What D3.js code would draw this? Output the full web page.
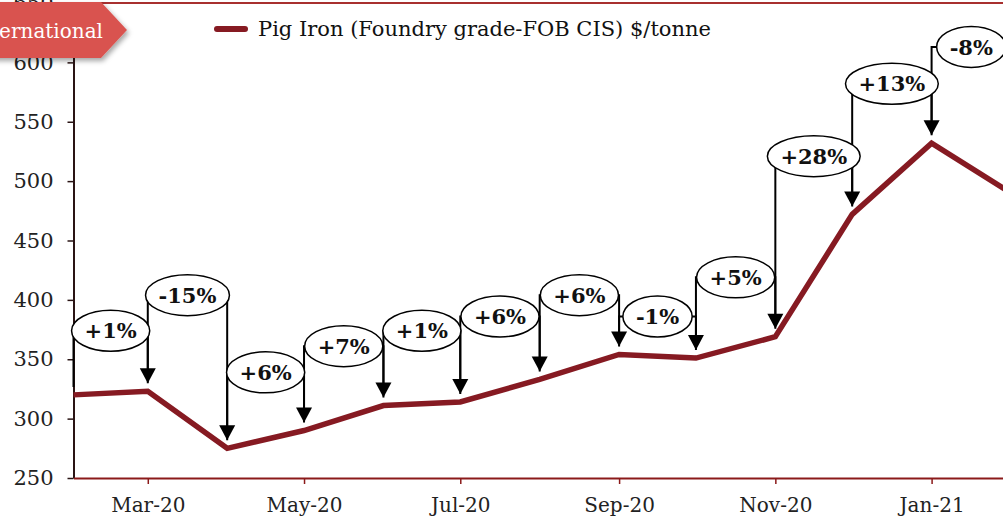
<!DOCTYPE html>
<html>
<head>
<meta charset="utf-8">
<script src="https://cdn.jsdelivr.net/npm/d3@7"></script>
<style>
  html, body { margin: 0; padding: 0; background: #fff; overflow: hidden; }
  svg { display: block; font-family: "DejaVu Serif", Georgia, serif; }
</style>
</head>
<body>
<div id="chart"></div>
<script>
const WIDTH = 1003;
const HEIGHT = 521;
const MARGIN = {top: 3, left: 73.5, bottom: 43};
const LINE_COLOR = '#861a22';
const TIP_GAP = 8;
const HEAD = 15;

// monthly pig iron price, $/tonne
const months = ['2020-02-01', '2020-03-01', '2020-04-01', '2020-05-01', '2020-06-01', '2020-07-01',
  '2020-08-01', '2020-09-01', '2020-10-01', '2020-11-01', '2020-12-01', '2021-01-01', '2021-02-01'];
const prices = [320, 323, 275, 290, 311, 314, 333, 354, 351, 369, 472, 532, 490];

// month-on-month change callouts (one per step) and the level they sit at
const changeLabels = ['+1%', '-15%', '+6%', '+7%', '+1%', '+6%', '+6%', '-1%', '+5%', '+28%', '+13%', '-8%'];
const labelLevels = [374, 404, 339, 361, 374, 386, 404, 386, 419, 521, 582, 613];

const yTicks = [250, 300, 350, 400, 450, 500, 550, 600, 650];
const xTicks = ['2020-03-01', '2020-05-01', '2020-07-01', '2020-09-01', '2020-11-01', '2021-01-01'];

const seriesName = 'Pig Iron (Foundry grade-FOB CIS) $/tonne';
const bannerText = 'International';

const parse = d3.timeParse('%Y-%m-%d');
const dates = months.map(parse);

const svg = d3.select('#chart')
  .append('svg')
  .attr('width', WIDTH)
  .attr('height', HEIGHT);

const defs = svg.append('defs');
const shadow = defs.append('filter').attr('id', 'shadow')
  .attr('x', '-20%').attr('y', '-20%').attr('width', '150%').attr('height', '160%');
shadow.append('feDropShadow')
  .attr('dx', 2).attr('dy', 3).attr('stdDeviation', 2.5)
  .attr('flood-color', '#000').attr('flood-opacity', 0.35);

const x = d3.scaleTime()
  .domain([dates[0], dates[dates.length - 1]])
  .range([MARGIN.left, 1011]);

const y = d3.scaleLinear()
  .domain([yTicks[0], yTicks[yTicks.length - 1]])
  .range([HEIGHT - MARGIN.bottom, MARGIN.top]);

// top frame line
svg.append('line')
  .attr('x1', MARGIN.left).attr('x2', WIDTH)
  .attr('y1', y(650)).attr('y2', y(650))
  .attr('stroke', '#a8302f')
  .attr('stroke-width', 2);

// y axis
const yAxis = d3.axisLeft(y)
  .tickValues(yTicks)
  .tickSize(6)
  .tickPadding(14)
  .tickSizeOuter(0);

const yg = svg.append('g')
  .attr('transform', 'translate(' + MARGIN.left + ',0)')
  .call(yAxis);
yg.select('.domain').attr('stroke', '#2a1414').attr('stroke-width', 2);
yg.selectAll('.tick line').attr('stroke', '#2a1414').attr('stroke-width', 1.5);
yg.selectAll('text')
  .attr('font-size', 21)
  .attr('fill', '#222')
  .attr('font-family', '"DejaVu Serif", serif');

// x axis
const xAxis = d3.axisBottom(x)
  .tickValues(xTicks.map(parse))
  .tickFormat(d3.timeFormat('%b-%y'))
  .tickSize(6)
  .tickPadding(14)
  .tickSizeOuter(0);

const xg = svg.append('g')
  .attr('transform', 'translate(0,' + y(250) + ')')
  .call(xAxis);
xg.select('.domain').attr('stroke', '#8b1a1a').attr('stroke-width', 2);
xg.selectAll('.tick line').attr('stroke', '#8b1a1a').attr('stroke-width', 1.5);
xg.selectAll('text')
  .attr('font-size', 20)
  .attr('fill', '#222')
  .attr('font-family', '"DejaVu Serif", serif');

// price line
const line = d3.line()
  .x((d, i) => x(dates[i]))
  .y(d => y(d));

svg.append('path')
  .datum(prices)
  .attr('fill', 'none')
  .attr('stroke', LINE_COLOR)
  .attr('stroke-width', 5.5)
  .attr('stroke-linejoin', 'miter')
  .attr('d', line);

// change callouts: bracket from previous month up to the label, arrow down to this month
const steps = changeLabels.map((label, i) => ({
  label: label,
  x0: x(dates[i]),
  x1: x(dates[i + 1]),
  y0: y(prices[i]) - TIP_GAP,
  y1: y(prices[i + 1]) - TIP_GAP,
  ly: y(labelLevels[i])
}));

const conn = svg.append('g').attr('class', 'connectors');

steps.forEach(s => {
  conn.append('path')
    .attr('fill', 'none')
    .attr('stroke', '#000')
    .attr('stroke-width', 2)
    .attr('d', 'M' + s.x0 + ',' + s.y0 + 'V' + s.ly + 'H' + s.x1 + 'V' + (s.y1 - HEAD + 1));

  conn.append('path')
    .attr('fill', '#000')
    .attr('d', 'M' + (s.x1 - 8) + ',' + (s.y1 - HEAD) + 'L' + (s.x1 + 8) + ',' + (s.y1 - HEAD) +
      'L' + s.x1 + ',' + s.y1 + 'Z');
});

const bubbles = svg.append('g').attr('class', 'bubbles');

steps.forEach(s => {
  const g = bubbles.append('g')
    .attr('transform', 'translate(' + ((s.x0 + s.x1) / 2) + ',' + s.ly + ')');
  const ell = g.append('ellipse')
    .attr('fill', '#fff')
    .attr('stroke', '#000')
    .attr('stroke-width', 1.5)
    .attr('ry', 20.5);
  const t = g.append('text')
    .attr('text-anchor', 'middle')
    .attr('dy', '0.36em')
    .attr('font-size', 21)
    .attr('font-weight', 'bold')
    .attr('fill', '#111')
    .text(s.label);
  const tw = t.node().getComputedTextLength();
  ell.attr('rx', tw / 2 + 13);
});

// banner in the top-left corner
const banner = svg.append('g');
banner.append('path')
  .attr('d', 'M-10,2H101L127,30L101,58H-10Z')
  .attr('fill', '#d95350')
  .attr('filter', 'url(#shadow)');
banner.append('text')
  .attr('x', 103)
  .attr('y', 38)
  .attr('text-anchor', 'end')
  .attr('font-size', 20)
  .attr('fill', '#fff')
  .text(bannerText);

// legend
const legend = svg.append('g').attr('transform', 'translate(215,29)');
legend.append('line')
  .attr('x1', 2).attr('x2', 30)
  .attr('stroke', LINE_COLOR)
  .attr('stroke-width', 6)
  .attr('stroke-linecap', 'round');
legend.append('text')
  .attr('x', 43)
  .attr('dy', '0.35em')
  .attr('font-size', 21)
  .attr('fill', '#111')
  .text(seriesName);
</script>
</body>
</html>
